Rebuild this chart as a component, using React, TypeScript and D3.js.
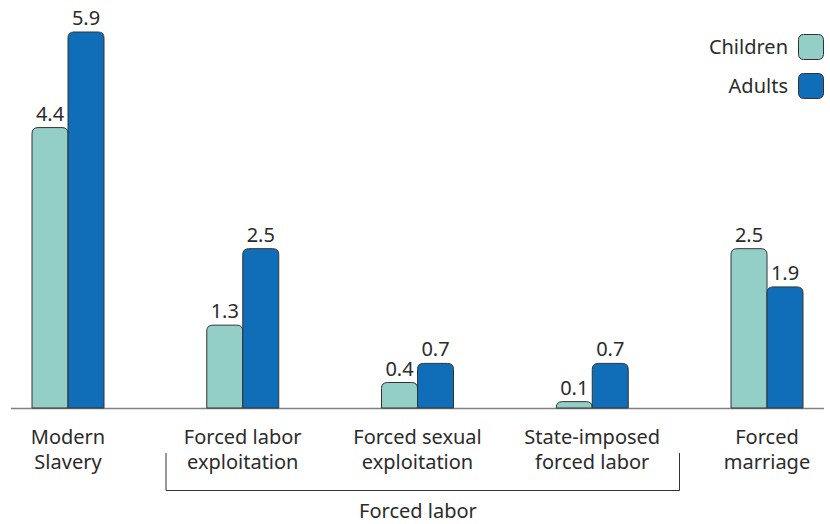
import React from "react";
import * as d3 from "d3";

const categories = ["Modern\nSlavery", "Forced labor\nexploitation", "Forced sexual\nexploitation", "State-imposed\nforced labor", "Forced\nmarriage"];
const seriesNames = ["Children", "Adults"];
const children = [4.4, 1.3, 0.4, 0.1, 2.5];
const adults = [5.9, 2.5, 0.7, 0.7, 1.9];
const colors = ["#93cec7", "#106eb8"];
const groupLabel = "Forced labor";

const W = 830, H = 524;
const baseY = 408;
const FONT = "'Noto Sans', 'Open Sans', sans-serif";
const FS = 20;
const TXT = "#2b2b2b";

function topRoundedRect(x: number, y: number, w: number, h: number, r: number) {
  const rr = Math.min(r, h, w / 2);
  return `M${x},${y + h}V${y + rr}Q${x},${y} ${x + rr},${y}H${x + w - rr}Q${x + w},${y} ${x + w},${y + rr}V${y + h}Z`;
}

export default function App() {
  const x = d3.scalePoint<number>().domain(d3.range(categories.length)).range([68, 767]);
  const y = d3.scaleLinear().domain([0, 5.9]).range([baseY, 32]);
  const bw = 36;
  const series = [children, adults];
  return (
    <svg width={W} height={H} style={{ position: "absolute", left: 0, top: 0 }} fontFamily={FONT}>
      <line x1={11} x2={824} y1={baseY + 0.5} y2={baseY + 0.5} stroke="#808080" strokeWidth={1.5} />
      {categories.map((c, i) => {
        const cx = x(i)!;
        return (
          <g key={i}>
            {series.map((s, k) => {
              const bx = cx - bw + k * bw;
              const by = y(s[i]);
              return (
                <g key={k}>
                  <path d={topRoundedRect(bx, by, bw, baseY - by, 6)} fill={colors[k]} stroke="#333" strokeWidth={1} />
                  <text x={bx + bw / 2} y={by - 7} textAnchor="middle" fontSize={FS} fill={TXT}>{s[i].toFixed(1)}</text>
                </g>
              );
            })}
            {c.split("\n").map((ln, j) => (
              <text key={j} x={cx} y={444 + j * 25} textAnchor="middle" fontSize={FS} fill={TXT}>{ln}</text>
            ))}
          </g>
        );
      })}
      <path d={`M166,453V490.5H679.5V453`} fill="none" stroke="#333" strokeWidth={1} />
      <text x={418} y={518} textAnchor="middle" fontSize={FS} fill={TXT}>{groupLabel}</text>
      {seriesNames.map((n, k) => (
        <g key={n}>
          <rect x={798.5} y={34.5 + k * 39} width={25} height={25} rx={5} fill={colors[k]} stroke="#333" strokeWidth={1} />
          <text x={788} y={54 + k * 39} textAnchor="end" fontSize={FS} fill={TXT}>{n}</text>
        </g>
      ))}
    </svg>
  );
}
